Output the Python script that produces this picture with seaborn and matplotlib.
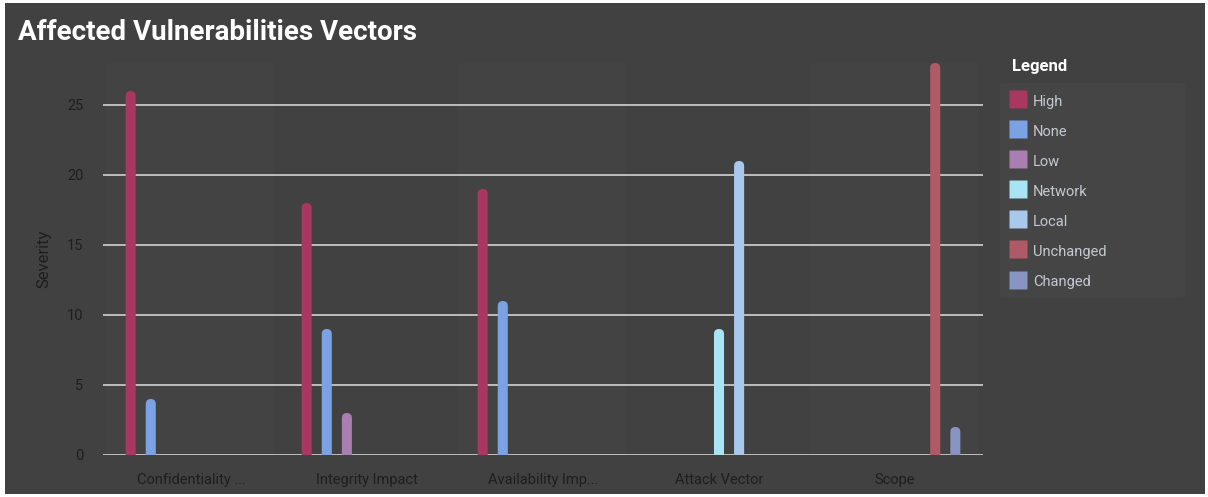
import matplotlib
matplotlib.use("Agg")
import matplotlib.pyplot as plt
from matplotlib.patches import FancyBboxPatch, Rectangle
from matplotlib.lines import Line2D
import seaborn as sns
import pandas as pd

categories = ["Confidentiality ...", "Integrity Impact", "Availability Imp...", "Attack Vector", "Scope"]
levels = ["High", "None", "Low", "Network", "Local", "Unchanged", "Changed"]
colors = ["#A93860", "#7BA3E3", "#A87FB0", "#A9E4F5", "#A9C9EC", "#B05A68", "#8894C2"]

rec_category = ["Confidentiality ...", "Confidentiality ...",
                "Integrity Impact", "Integrity Impact", "Integrity Impact",
                "Availability Imp...", "Availability Imp...",
                "Attack Vector", "Attack Vector",
                "Scope", "Scope"]
rec_level = ["High", "None",
             "High", "None", "Low",
             "High", "None",
             "Network", "Local",
             "Unchanged", "Changed"]
rec_value = [26, 4,
             18, 9, 3,
             19, 11,
             9, 21,
             28, 2]

df = pd.DataFrame({"vector": rec_category, "level": rec_level, "severity": rec_value})

sns.set_theme(style="dark")
plt.rcParams["font.family"] = ["Roboto", "DejaVu Sans"]

BG = "#414141"
W, H = 1208, 497
fig = plt.figure(figsize=(W / 100, H / 100), dpi=100)
fig.patch.set_facecolor("white")
fig.add_artist(Rectangle((5 / W, 3 / H), 1200 / W, 491 / H, transform=fig.transFigure,
                         facecolor=BG, edgecolor="none", zorder=-10))

ax = fig.add_axes([103 / W, 42 / H, 880 / W, 392 / H])
ax.set_facecolor("none")

sns.barplot(data=df, x="vector", y="severity", hue="level", order=categories,
            hue_order=levels, palette=colors, width=0.8, gap=0.5, dodge=True,
            errorbar=None, legend=False, ax=ax, saturation=1)

ax.set_xlim(-0.5, len(categories) - 0.5)
ymax = 28
ax.set_ylim(0, ymax)

# rounded tops
fig.canvas.draw()
bbox = ax.get_window_extent()
x_per_px = (len(categories)) / bbox.width
y_per_px = ymax / bbox.height
aspect = y_per_px / x_per_px
bars = [p for c in ax.containers for p in c]
for p in bars:
    if p.get_height() is None or not p.get_height() > 0:
        p.remove()
        continue
    x, w, h = p.get_x(), p.get_width(), p.get_height()
    rx = w / 2
    ry = rx * aspect
    fb = FancyBboxPatch((x, -ry), w, h + ry,
                        boxstyle=f"round,pad=0,rounding_size={rx}",
                        mutation_aspect=aspect,
                        facecolor=p.get_facecolor(), edgecolor="none", zorder=3)
    p.remove()
    ax.add_patch(fb)

# alternating bands
for i in range(0, len(categories), 2):
    ax.axvspan(i - 0.475, i + 0.475, color="#434343", zorder=0, lw=0)

ax.set_yticks([0, 5, 10, 15, 20, 25])
ax.yaxis.grid(True, color="#c8c8c8", linewidth=1.3)
ax.xaxis.grid(False)
ax.set_axisbelow(True)
for s in ax.spines.values():
    s.set_visible(False)
ax.tick_params(axis="both", length=0, colors="#1e1e1e", labelsize=10.5)
ax.tick_params(axis="y", pad=14)
ax.tick_params(axis="x", pad=13)
ax.set_xlabel("")
ax.set_ylabel("Severity", color="#1e1e1e", fontsize=12, labelpad=11)

fig.text(18 / W, 1 - 32 / H, "Affected Vulnerabilities Vectors", color="white",
         fontsize=20, fontweight="bold", va="center", ha="left")

fig.text(1012 / W, 1 - 67 / H, "Legend", color="white", fontsize=12,
         fontweight="bold", va="center", ha="left")

fig.add_artist(FancyBboxPatch((1000 / W, 1 - 298 / H), 185 / W, 215 / H,
                              boxstyle="round,pad=0,rounding_size=0.004",
                              transform=fig.transFigure, facecolor="#454545",
                              edgecolor="none", zorder=-5))

handles = [Line2D([], [], marker="s", linestyle="none", markersize=13,
                  markerfacecolor=c, markeredgecolor="none", label=l)
           for c, l in zip(colors, levels)]
leg = fig.legend(handles=handles, loc="upper left", bbox_to_anchor=(1003 / W, 1 - 87 / H),
                 frameon=False, fontsize=10.5, handlelength=1.3, handleheight=1.3,
                 labelspacing=0.97, handletextpad=0.35, borderpad=0.4,
                 borderaxespad=0)
for t in leg.get_texts():
    t.set_color("#c4c8d2")

fig.savefig("out.png", dpi=100, facecolor=fig.get_facecolor())
